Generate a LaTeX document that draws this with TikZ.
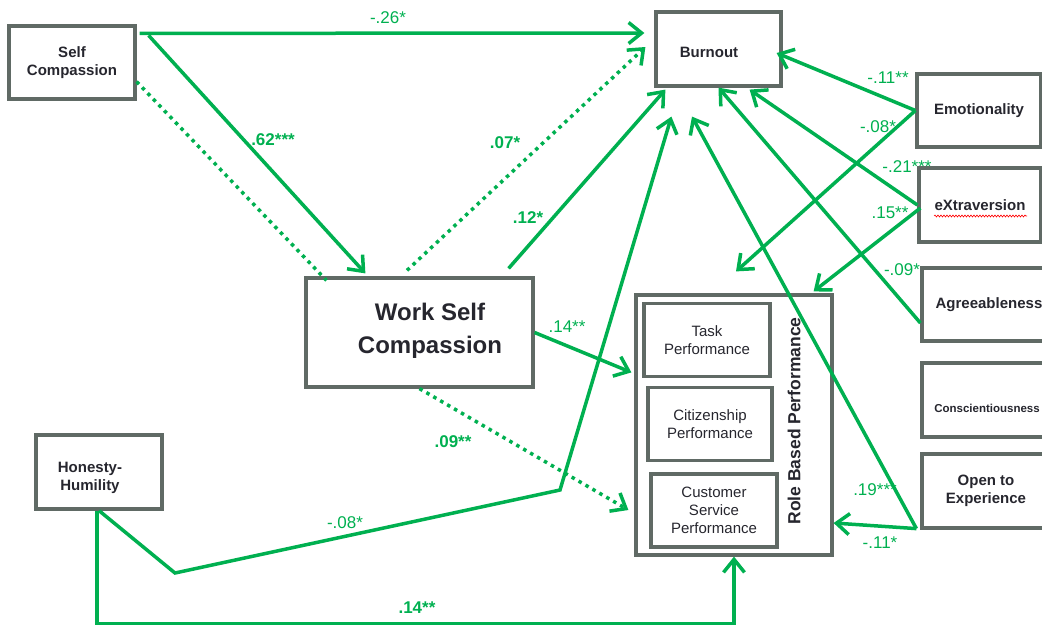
\documentclass[tikz,border=0pt]{standalone}
\usepackage{fontspec}
\setmainfont{Liberation Sans}
\usetikzlibrary{arrows.meta,positioning,calc,decorations.pathmorphing}
\definecolor{pathgreen}{RGB}{0,176,80}
\definecolor{boxgray}{RGB}{96,106,101}
\definecolor{inkdark}{RGB}{38,38,46}

\begin{document}
\begin{tikzpicture}[x=1pt,y=-1pt,
  block/.style={draw=boxgray, line width=3.2pt, minimum width=#1, minimum height=73pt, align=center, text=inkdark, inner sep=2pt, font=\fontsize{15}{18}\selectfont\bfseries},
  block/.default=125pt,
  sub/.style={block=#1, font=\fontsize{15}{18}\selectfont},
  sub/.default=126pt,
  tag/.style={text=inkdark, align=center, inner sep=0pt, font=\fontsize{15}{18}\selectfont\bfseries},
  link/.style={draw=pathgreen, line width=3.5pt, -{Straight Barb[length=13pt,width=21pt]}},
  dotlink/.style={link, dash pattern=on 3.5pt off 4.5pt},
  coef/.style={text=pathgreen, inner sep=0pt, font=\fontsize{17}{17}\selectfont},
  coefb/.style={coef, font=\fontsize{17}{17}\selectfont\bfseries}
]
\useasboundingbox (0,0) rectangle (1042,625);
\clip (0,0) rectangle (1042,625);

% predictors and outcomes
\node[block=126pt] (sc) at (72,62.5) {Self\\Compassion};
\node[block, minimum height=74pt] (bo) at (718.5,49) {};
\node[tag] (botext) at (709,52) {Burnout};
\node[block=227pt, minimum height=109pt] (wsc) at (419.5,332.5) {};
\node[tag, font=\fontsize{24}{33}\selectfont\bfseries] (wsctext) at (430,331) {Work Self\\Compassion};
\node[block=126pt, minimum height=74pt] (hh) at (99,472) {};
\node[tag] (hhtext) at (90,478) {Honesty-\\Humility};
\node[block=124pt] (emo) at (979,110.5) {Emotionality};
\node[block=122pt, minimum height=74pt] (ext) at (980,205) {eXtraversion};
\node[block=134pt] (agr) at (989,304.5) {Agreeableness};
\node[block=130pt, minimum height=74pt] (con) at (987,400) {};
\node[tag, font=\fontsize{11.5}{14}\selectfont\bfseries] (context) at (987,408) {Conscientiousness};
\node[block=128pt, minimum height=74pt] (open) at (986,491) {Open to\\Experience};
\draw[red, line width=0.6pt, decorate, decoration={snake, amplitude=1pt, segment length=3pt}] ($(ext.center)+(-46,11)$) -- ++(93,0);

% role based performance
\node[block=196pt, minimum height=260pt] (rbp) at (734,425) {};
\node[rotate=90, text=inkdark, font=\fontsize{17.5}{20}\selectfont\bfseries] (rbptitle) at (794,421) {Role Based Performance};
\node[sub] (task) at (707,340) {Task\\Performance};
\node[sub=124pt, below=8pt of task, xshift=3pt] (cit) {Citizenship\\Performance};
\node[sub, below=10pt of cit, xshift=4pt] (csp) {Customer\\Service\\Performance};

% paths
\coordinate (hbend1) at (175,573);
\coordinate (hbend2) at (560,490);
\draw[link] ($(sc.north east)+(3,9)$) -- ($(bo.west)+(-10,-16)$);
\draw[link] ($(sc.north east)+(12,11)$) -- ($(wsc.north west)+(61,-3)$);
\draw[dotlink,-] ($(sc.south east)+(0,-19)$) -- ($(wsc.north west)+(22,4)$);
\draw[dotlink] ($(wsc.north)+(-12.5,-6)$) -- ($(bo.west)+(-9,-2)$);
\draw[link] ($(wsc.north east)+(-26,-8)$) -- ($(bo.south west)+(11,2)$);
\draw[link] (wsc.east) -- ($(rbp.north west)+(-3,79)$);
\draw[dotlink] (wsc.south) -- ($(rbp.west)+(-6,85)$);
\draw[link] (hh.south) -- (hbend1) -- (hbend2) -- ($(bo.south west)+(17,29)$);
\draw[link] ($(hh.south)+(-2,0)$) -- ++(0,113) -| (rbp.south);
\draw[link] (emo.west) -- ($(bo.east)+(-6,4)$);
\draw[link] (emo.west) -- ($(rbp.north)+(2,-22)$);
\draw[link] (ext.west) -- ($(bo.south east)+(-33,2)$);
\draw[link] ($(ext.west)+(3,3)$) -- ($(rbp.north east)+(-20,-2)$);
\draw[link] ($(agr.west)+(0,18.5)$) -- (bo.south);
\draw[link] ($(open.south west)+(-4,-1)$) -- ($(bo.south)+(-26.5,29)$);
\draw[link] ($(open.south west)+(-4,-1)$) -- ($(rbp.east)+(0,98)$);

% coefficients
\node[coef] (l26) at (388,18) {-.26*};
\node[coefb] (l62) at (273,140) {.62***};
\node[coefb] (l07) at (505,143) {.07*};
\node[coefb] (l12) at (528,218) {.12*};
\node[coef] (l14a) at (567,327) {.14**};
\node[coefb] (l09) at (453,442) {.09**};
\node[coef] (l08h) at (345,523) {-.08*};
\node[coefb] (l14b) at (417,608) {.14**};
\node[coef] (l11e) at (888,78) {-.11**};
\node[coef] (l08e) at (878,127) {-.08*};
\node[coef] (l21) at (907,167) {-.21***};
\node[coef] (l15) at (890,213) {.15**};
\node[coef] (l09a) at (902,270) {-.09*};
\node[coef] (l19) at (875,490) {.19***};
\node[coef] (l11o) at (880,543) {-.11*};
\end{tikzpicture}
\end{document}
